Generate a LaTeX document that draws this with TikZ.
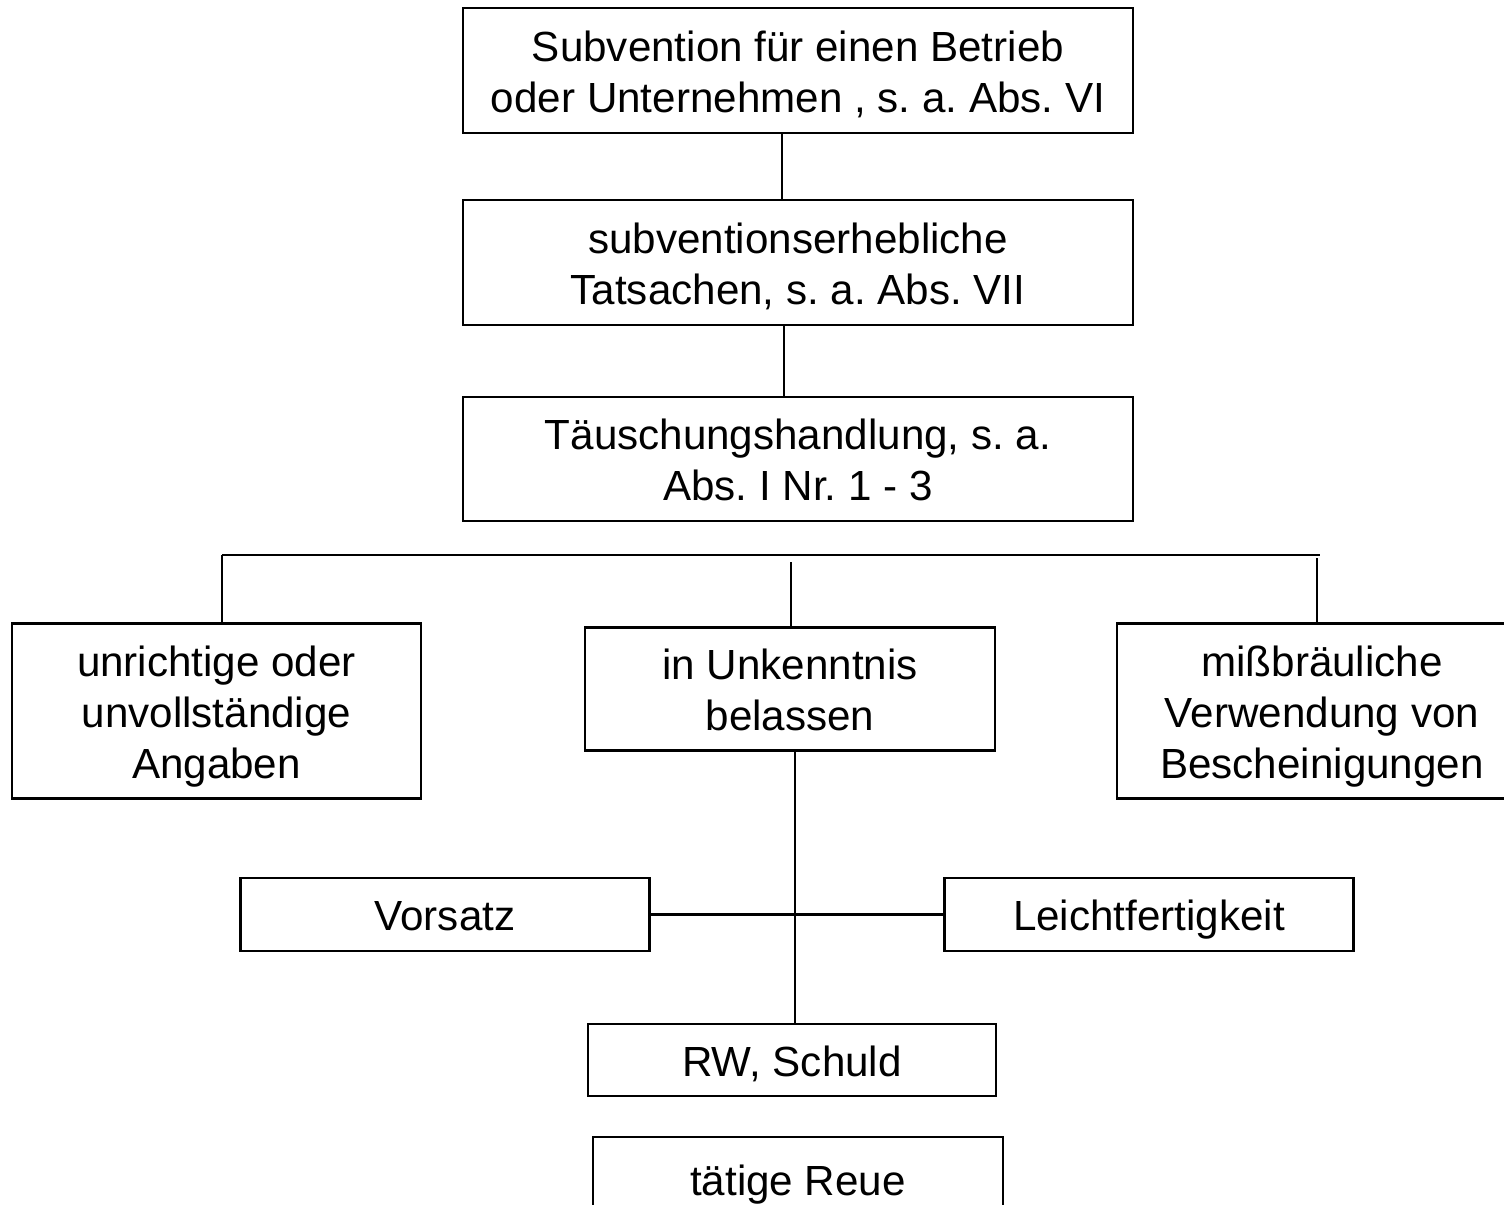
\documentclass[tikz,border=0pt]{standalone}
\usepackage{fontspec}
\setmainfont{Liberation Sans}
\frenchspacing

\tikzset{kasten/.style = {draw, line width=1.3pt, align=center, inner sep=0pt,
                          minimum width=#1, font=\fontsize{24}{29}\selectfont,
                          text height=24pt, text depth=5.3pt},
         kasten/.default=13.4cm,
         zwei/.style = {text height=53pt},
         drei/.style = {text height=82pt},
         strich/.style = {line width=1pt}
        }

\begin{document}
\begin{tikzpicture}[x=0.02cm, y=-0.02cm]
  \useasboundingbox (0,0) rectangle (1504,1204);
  \node[kasten, zwei, minimum height=2.5cm] (subvention) at (798,70.5)
       {Subvention für einen Betrieb\\oder Unternehmen , s. a. Abs. VI};
  \node[kasten, zwei, minimum height=2.5cm] (tatsachen) at (798,262.5)
       {subventionserhebliche\\Tatsachen, s. a. Abs. VII};
  \node[kasten, zwei, minimum height=2.48cm] (taeuschung) at (798,459)
       {Täuschungshandlung, s. a.\\Abs. I Nr. 1 - 3};
  \node[kasten=8.18cm, drei, minimum height=3.5cm] (angaben) at (216.5,711)
       {unrichtige oder\\unvollständige\\Angaben};
  \node[kasten=8.2cm, zwei, minimum height=2.46cm] (unkenntnis) at (790,689)
       {in Unkenntnis\\belassen};
  \node[kasten=8.2cm, drei, minimum height=3.5cm] (bescheinigung) at (1322,711)
       {mißbräuliche\\Verwendung von\\Bescheinigungen};
  \node[kasten=8.18cm, minimum height=1.46cm] (vorsatz) at (445,914.5) {Vorsatz};
  \node[kasten=8.18cm, minimum height=1.46cm] (leicht) at (1149,914.5) {Leichtfertigkeit};
  \node[kasten=8.16cm, minimum height=1.44cm] (schuld) at (792,1060) {RW, Schuld};
  \node[kasten=8.2cm, minimum height=1.68cm] (reue) at (798,1179) {tätige Reue};

  \coordinate (balken-l) at (222,555);
  \coordinate (balken-r) at (1320,555);

  \draw[strich] ([xshift=-0.32cm]subvention.south) -- ([xshift=-0.32cm]tatsachen.north);
  \draw[strich] ([xshift=-0.28cm]tatsachen.south) -- ([xshift=-0.28cm]taeuschung.north);
  \draw[line width=1.4pt] (balken-l) -- (balken-r);
  \draw[strich] (balken-l) -- (balken-l |- angaben.north);
  \draw[strich] ([xshift=0.02cm]unkenntnis.north) -- +(0,-64);
  \draw[strich] ([xshift=-0.1cm]bescheinigung.north) -- +(0,-64);
  \draw[strich] ([xshift=0.1cm]unkenntnis.south) -- ([xshift=0.1cm]unkenntnis.south |- schuld.north);
  \draw[line width=1.2pt] (vorsatz.east) -- (leicht.west);
\end{tikzpicture}
\end{document}
